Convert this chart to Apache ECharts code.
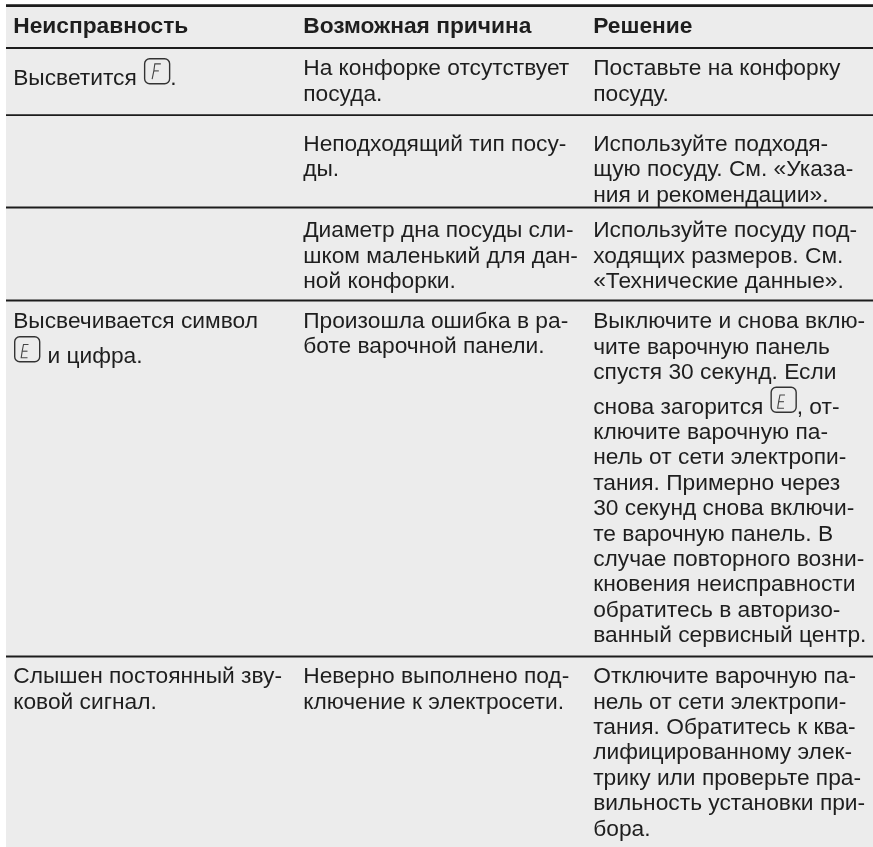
<!DOCTYPE html>
<html><head><meta charset="utf-8">
<style>html,body{margin:0;padding:0;background:#fff;overflow:hidden}#c{width:873px;height:847px}</style>
<script src="https://cdn.jsdelivr.net/npm/echarts@6/dist/echarts.min.js"></script>
</head><body><div id="c"></div>
<script>
const headers = ['Неисправность','Возможная причина','Решение'];
const col1 = [
 ['Высветится [F].'],
 ['Высвечивается символ','[E] и цифра.'],
 ['Слышен постоянный зву-','ковой сигнал.']
];
const col2 = [
 ['На конфорке отсутствует','посуда.'],
 ['Неподходящий тип посу-','ды.'],
 ['Диаметр дна посуды сли-','шком маленький для дан-','ной конфорки.'],
 ['Произошла ошибка в ра-','боте варочной панели.'],
 ['Неверно выполнено под-','ключение к электросети.']
];
const col3 = [
 ['Поставьте на конфорку','посуду.'],
 ['Используйте подходя-','щую посуду. См. «Указа-','ния и рекомендации».'],
 ['Используйте посуду под-','ходящих размеров. См.','«Технические данные».'],
 ['Выключите и снова вклю-','чите варочную панель','спустя 30 секунд. Если','снова загорится [E], от-','ключите варочную па-','нель от сети электропи-','тания. Примерно через','30 секунд снова включи-','те варочную панель. В','случае повторного возни-','кновения неисправности','обратитесь в авторизо-','ванный сервисный центр.'],
 ['Отключите варочную па-','нель от сети электропи-','тания. Обратитесь к ква-','лифицированному элек-','трику или проверьте пра-','вильность установки при-','бора.']
];
// layout
const X=[14,304,594], FS=22.75, FONT='"Liberation Sans"', DX=-0.8, DY=1.5;
const TXT='#1e1e1e';
const g=[];
g.push({type:'rect',shape:{x:6,y:4,width:867,height:843},style:{fill:'#ececec'}});
[[5.6,2.6],[48,2.2],[115.2,1.8],[207.5,1.8],[300.5,2],[656.5,2]].forEach(([y,w])=>g.push({type:'line',shape:{x1:6,y1:y,x2:873,y2:y},style:{stroke:'#1c1c1c',lineWidth:w}}));
function glyph(x,y,ch){
  g.push({type:'rect',shape:{x:x,y:y,width:25,height:25,r:5},style:{fill:'none',stroke:'#333',lineWidth:1.4}});
  const seg=(pts)=>g.push({type:'polyline',shape:{points:pts},style:{fill:'none',stroke:'#444',lineWidth:1.1}});
  if(ch==='F'){
    const a=[x+16.2,y+5.2],b=[x+10.2,y+5.2],c=[x+9.2,y+12.2],d=[x+14.2,y+12.2],e=[x+7.5,y+20.5];
    seg([a,b,c,e]);seg([c,d]);
  } else {
    const a=[x+13.8,y+7.8],b=[x+8.8,y+7.8],c=[x+7.5,y+14.5],d=[x+12.8,y+14.5],e=[x+6.5,y+21],f=[x+12.8,y+21];
    seg([a,b,c,e,f]);seg([c,d]);
  }
}
function t(x,y,s,bold){g.push({type:'text',x:x+DX,y:y+DY,style:{text:s,font:(bold?'bold ':'')+FS+'px '+FONT,fill:TXT,verticalAlign:'middle',textAlign:'left'}});}
function line(x,y,s){
  const m=s.match(/^(.*?)\[([EF])\](.*)$/);
  if(!m){t(x,y,s);return;}
  const ctx=document.createElement('canvas').getContext('2d');ctx.font=FS+'px '+FONT;
  if(m[1]){
    const w=ctx.measureText(m[1]).width, ix=x+w;
    glyph(ix+0.7,y-18.8,m[2]);
    t(x,y,m[1]);
    t(ix+27,y,m[3]);
  } else {
    glyph(x+0.7,y-18.8,m[2]);
    t(x+34.2,y,m[3].trim());
  }
}
headers.forEach((h,i)=>t(X[i],25.5,h,true));
const blk=(x,ys,arr)=>arr.forEach((rows,i)=>rows.forEach((s,j)=>line(x,ys[i][j],s)));
blk(X[0],[[77.5],[320,355.5],[675.5,701]],col1);
blk(X[1],[[67.5,93],[143,168.5],[229.5,255,280],[320,345.5],[675.5,701]],col2);
blk(X[2],[[67.5,93],[143,168.5,194],[229.5,255,280],[320.5,346,371.3,406,431,456.5,482,507.5,533,558,583.5,609,634],[675.5,701,726.3,751.7,777,802.5,828]],col3);
const chart=echarts.init(document.getElementById('c'),null,{renderer:'canvas'});
chart.setOption({animation:false,graphic:{elements:g}});
</script></body></html>
